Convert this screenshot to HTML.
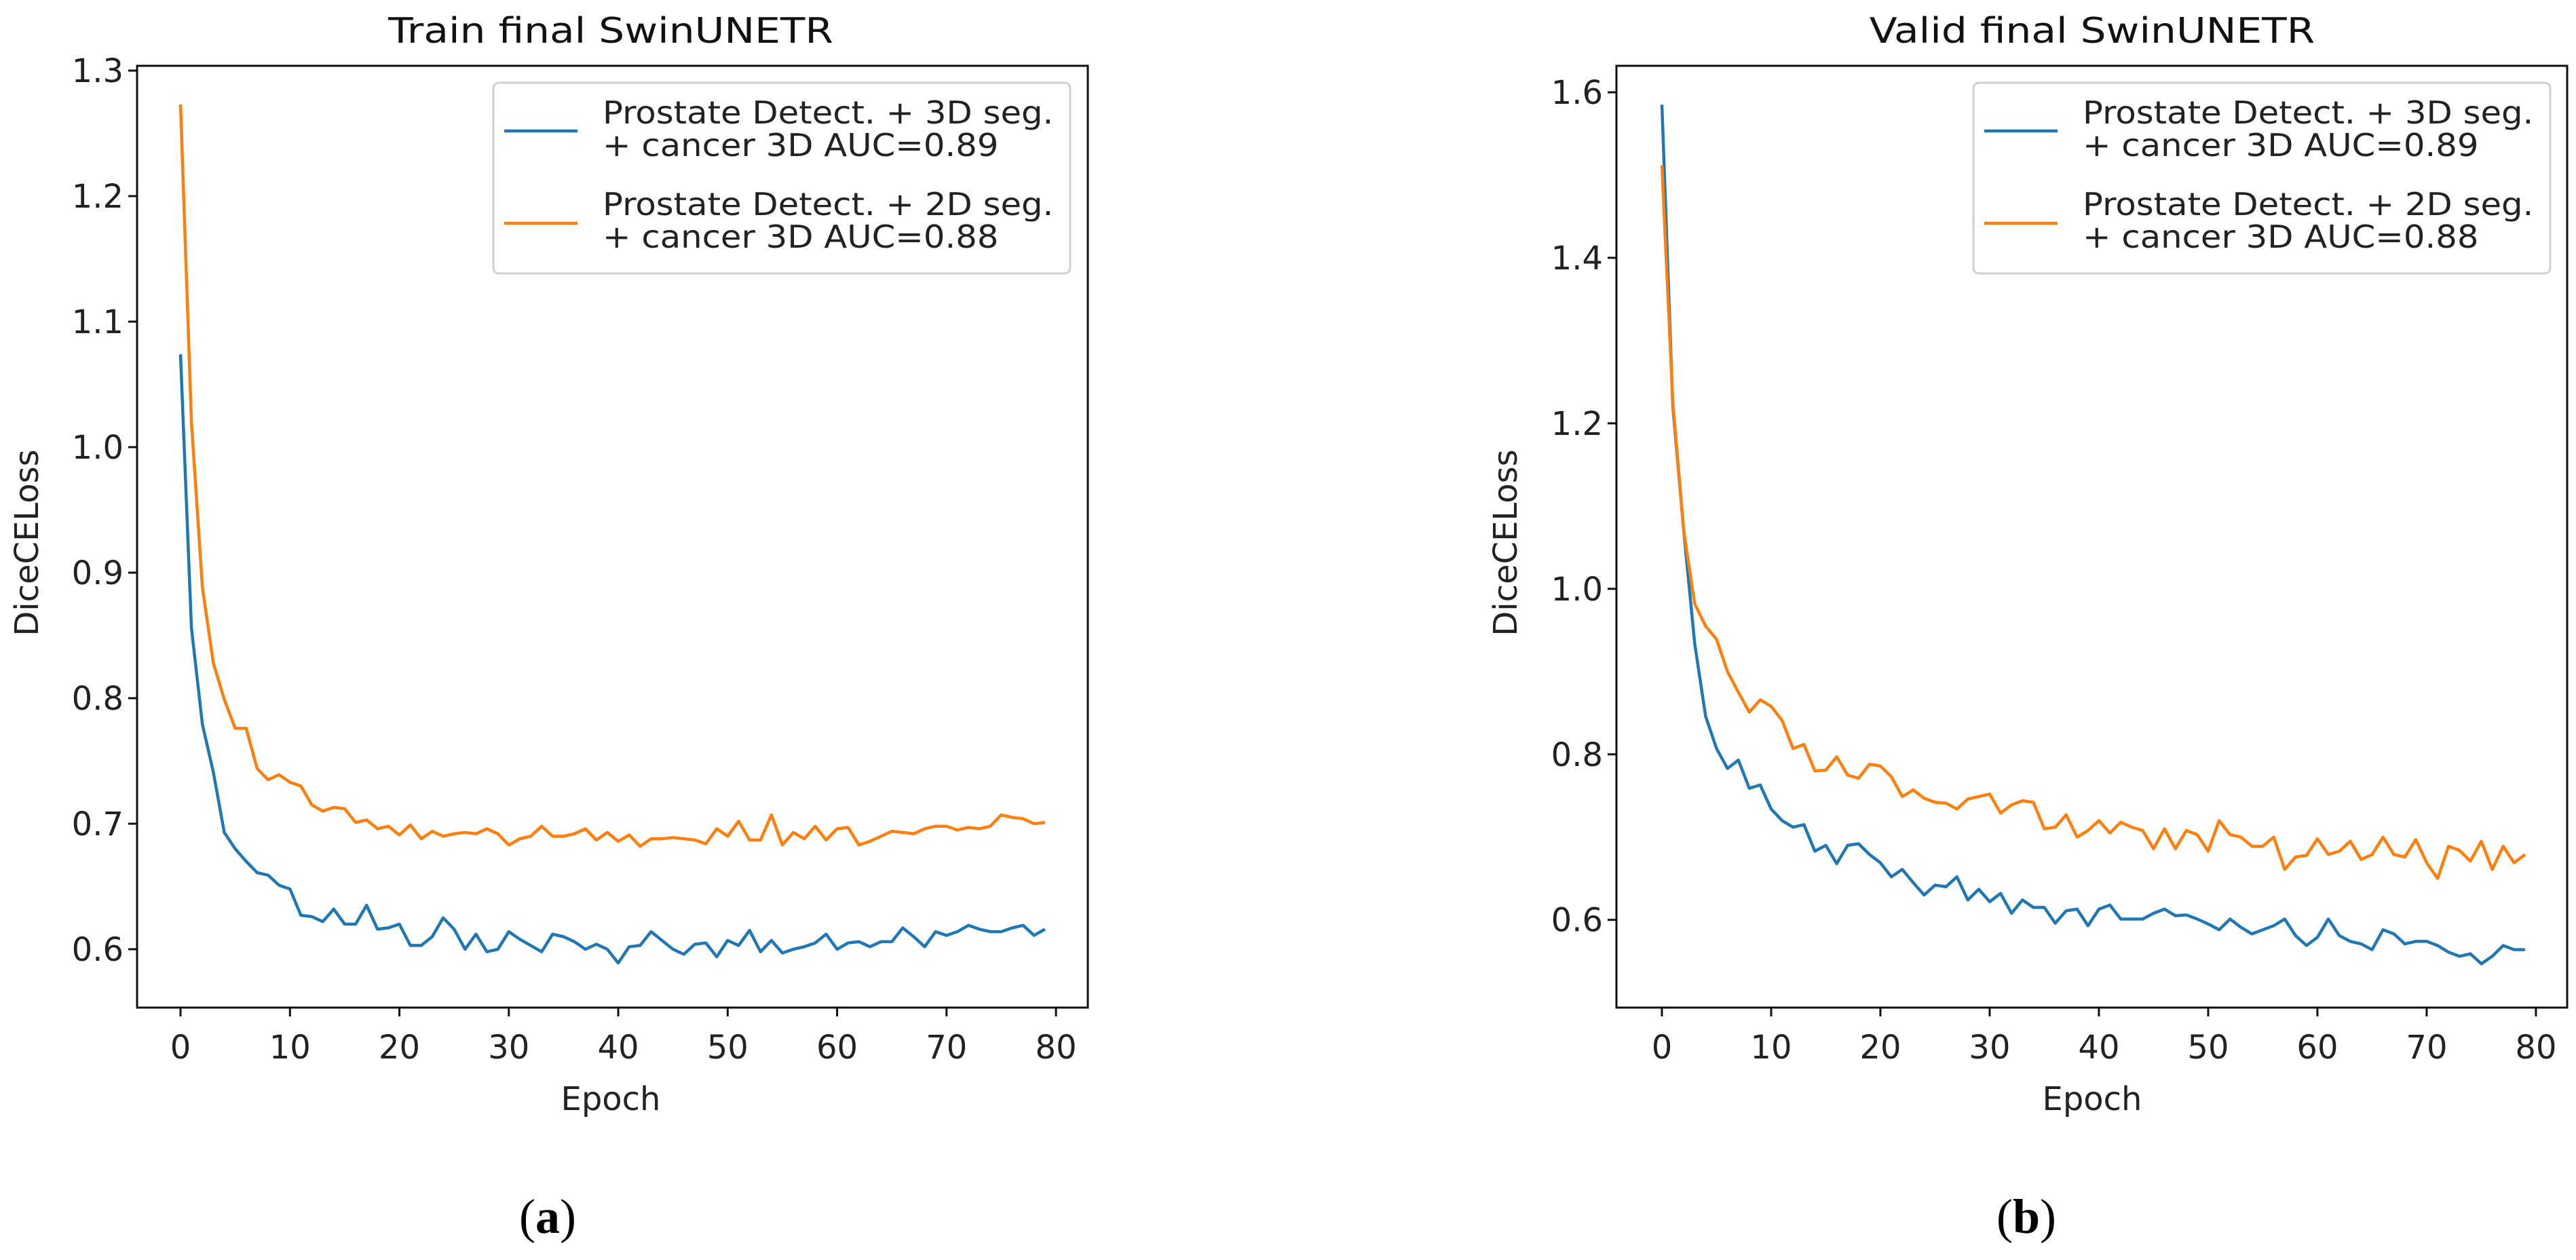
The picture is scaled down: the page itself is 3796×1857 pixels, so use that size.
<!DOCTYPE html>
<html><head><meta charset="utf-8"><style>
html,body{margin:0;padding:0;background:#fff;}
svg{display:block;font-family:"DejaVu Sans","Liberation Sans",sans-serif;}
</style></head><body>
<svg id="fig" width="3796" height="1857" viewBox="0 0 3796 1857"></svg>
<script>
const epochs = Array.from({length:80},(_,i)=>i);
const trainBlue = [1.074,0.856,0.779,0.741,0.693,0.680,0.670,0.661,0.659,0.651,0.648,0.627,0.626,0.622,0.632,0.620,0.620,0.635,0.616,0.617,0.620,0.603,0.603,0.610,0.625,0.616,0.600,0.612,0.598,0.600,0.614,0.608,0.603,0.598,0.612,0.610,0.606,0.600,0.604,0.600,0.589,0.602,0.603,0.614,0.607,0.600,0.596,0.604,0.605,0.594,0.607,0.603,0.615,0.598,0.607,0.597,0.600,0.602,0.605,0.612,0.600,0.605,0.606,0.602,0.606,0.606,0.617,0.610,0.602,0.614,0.611,0.614,0.619,0.616,0.614,0.614,0.617,0.619,0.611,0.616];
const trainOrange = [1.273,1.02,0.888,0.828,0.799,0.776,0.776,0.744,0.735,0.739,0.733,0.730,0.715,0.710,0.713,0.712,0.701,0.703,0.696,0.698,0.691,0.699,0.688,0.694,0.690,0.692,0.693,0.692,0.696,0.692,0.683,0.688,0.690,0.698,0.690,0.690,0.692,0.696,0.687,0.693,0.686,0.691,0.682,0.688,0.688,0.689,0.688,0.687,0.684,0.696,0.690,0.702,0.687,0.687,0.707,0.683,0.693,0.688,0.698,0.687,0.696,0.697,0.683,0.686,0.690,0.694,0.693,0.692,0.696,0.698,0.698,0.695,0.697,0.696,0.698,0.707,0.705,0.704,0.700,0.701];
const validBlue = [1.585,1.22,1.07,0.934,0.846,0.807,0.783,0.793,0.759,0.763,0.734,0.720,0.712,0.715,0.683,0.690,0.668,0.690,0.692,0.679,0.669,0.652,0.661,0.645,0.630,0.642,0.640,0.652,0.624,0.637,0.622,0.632,0.608,0.624,0.615,0.615,0.596,0.611,0.613,0.593,0.613,0.618,0.601,0.601,0.601,0.608,0.613,0.605,0.606,0.601,0.595,0.588,0.601,0.591,0.583,0.588,0.593,0.601,0.581,0.569,0.579,0.601,0.581,0.574,0.571,0.564,0.588,0.583,0.571,0.574,0.574,0.569,0.561,0.556,0.559,0.547,0.556,0.569,0.564,0.564];
const validOrange = [1.512,1.225,1.07,0.982,0.955,0.939,0.900,0.875,0.851,0.866,0.858,0.841,0.807,0.812,0.780,0.781,0.797,0.775,0.771,0.788,0.786,0.773,0.749,0.757,0.747,0.742,0.741,0.734,0.746,0.749,0.752,0.729,0.739,0.744,0.742,0.710,0.712,0.727,0.700,0.708,0.720,0.705,0.718,0.712,0.708,0.686,0.710,0.686,0.708,0.703,0.683,0.720,0.703,0.700,0.689,0.689,0.700,0.661,0.676,0.678,0.698,0.679,0.683,0.695,0.673,0.679,0.700,0.679,0.676,0.697,0.669,0.650,0.689,0.684,0.671,0.695,0.661,0.689,0.669,0.679];
const xTicks = [0,10,20,30,40,50,60,70,80];
const yTicksTrain = [0.6,0.7,0.8,0.9,1.0,1.1,1.2,1.3];
const yTicksValid = [0.6,0.8,1.0,1.2,1.4,1.6];
const legendLabels = [["Prostate Detect. + 3D seg.","+ cancer 3D AUC=0.89"],["Prostate Detect. + 2D seg.","+ cancer 3D AUC=0.88"]];

const NS="http://www.w3.org/2000/svg";
const svg=document.getElementById('fig');
function mk(tag,attrs,parent){const e=document.createElementNS(NS,tag);for(const k in attrs)e.setAttribute(k,attrs[k]);(parent||svg).appendChild(e);return e;}

function panel(o){
  const g=mk('g',{});
  
  
  const sx=v=>o.L+(v-o.xmin)/(o.xmax-o.xmin)*(o.R-o.L);
  const sy=v=>o.B-(v-o.ymin)/(o.ymax-o.ymin)*(o.B-o.T);
  const t=mk('text',{x:0,y:0,transform:`translate(${o.titleX},63) scale(1.15,1)`,'font-size':52,'text-anchor':'middle',fill:'#111'},g);
  t.textContent=o.title;
  
  
  o.series.forEach((s,i)=>{
    const d=s.vals.map((v,j)=>(j?'L':'M')+sx(epochs[j]).toFixed(1)+','+sy(v).toFixed(1)).join('');
    const p=mk('path',{d:d,fill:'none',stroke:s.color,'stroke-width':4.5,'stroke-linejoin':'round'},g);
    
    
  });
  const fr=mk('rect',{x:o.L,y:o.T,width:o.R-o.L,height:o.B-o.T,fill:'none',stroke:'#111','stroke-width':3},g);
  
  
  xTicks.forEach(v=>{
    const x=sx(v);
    mk('line',{x1:x,x2:x,y1:o.B,y2:o.B+13,stroke:'#111','stroke-width':3},g);
    const tx=mk('text',{x:x,y:1560,'font-size':48,'text-anchor':'middle',fill:'#222'},g);
    tx.textContent=v;
    
    
  });
  o.yTicks.forEach(v=>{
    const y=sy(v);
    mk('line',{x1:o.L-13,x2:o.L,y1:y,y2:y,stroke:'#111','stroke-width':3},g);
    const ty=mk('text',{x:o.L-20,y:y+17,'font-size':48,'text-anchor':'end',fill:'#222'},g);
    ty.textContent=v.toFixed(1);
    
    
  });
  const xl=mk('text',{x:o.titleX,y:1636,'font-size':48,'text-anchor':'middle',fill:'#222'},g);
  xl.textContent='Epoch';
  
  
  const yl=mk('text',{x:0,y:0,'font-size':48,'text-anchor':'middle',fill:'#222',transform:`translate(${o.ylx+17},800) rotate(-90)`},g);
  yl.textContent='DiceCELoss';
  
  
  const lg=mk('g',{},g);
  
  
  mk('rect',{x:o.legX,y:122,width:o.legW,height:281,rx:8,fill:'#fff','fill-opacity':0.85,stroke:'#d0d0d0','stroke-width':3},lg);
  o.series.forEach((s,i)=>{
    const ly=[193,329][i];
    const le=mk('g',{},lg);
    
    
    mk('line',{x1:o.legX+16,x2:o.legX+124,y1:ly,y2:ly,stroke:s.color,'stroke-width':4.5},le);
    legendLabels[i].forEach((txt,k)=>{
      const tt=mk('text',{x:0,y:0,transform:`translate(${o.legX+161},${[182,230,317,365][i*2+k]}) scale(1.08,1)`,'font-size':46,fill:'#222'},le);
      tt.textContent=txt;
    });
  });
  const cap=mk('text',{x:o.capX,y:1817,'font-size':72,'text-anchor':'middle','font-family':'"Liberation Serif",serif',fill:'#000'},g);
  cap.innerHTML='(<tspan font-weight="bold">'+o.cap+'</tspan>)';
  
  
}
panel({name:'train-panel',title:'Train final SwinUNETR',titleX:900,L:202,R:1603,T:97,B:1485,xmin:-3.97,xmax:82.91,ymin:0.5535,ymax:1.3038,yTicks:yTicksTrain,ylx:39,legX:727,legW:850,capX:807,cap:'a',
  series:[{key:'3d-seg',vals:trainBlue,color:'#1f77b4'},{key:'2d-seg',vals:trainOrange,color:'#ff7f0e'}]});
panel({name:'valid-panel',title:'Valid final SwinUNETR',titleX:3083,L:2382,R:3783,T:97,B:1485,xmin:-4.16,xmax:82.86,ymin:0.494,ymax:1.632,yTicks:yTicksValid,ylx:2218,legX:2908,legW:850,capX:2986,cap:'b',
  series:[{key:'3d-seg',vals:validBlue,color:'#1f77b4'},{key:'2d-seg',vals:validOrange,color:'#ff7f0e'}]});
</script>
</body></html>
